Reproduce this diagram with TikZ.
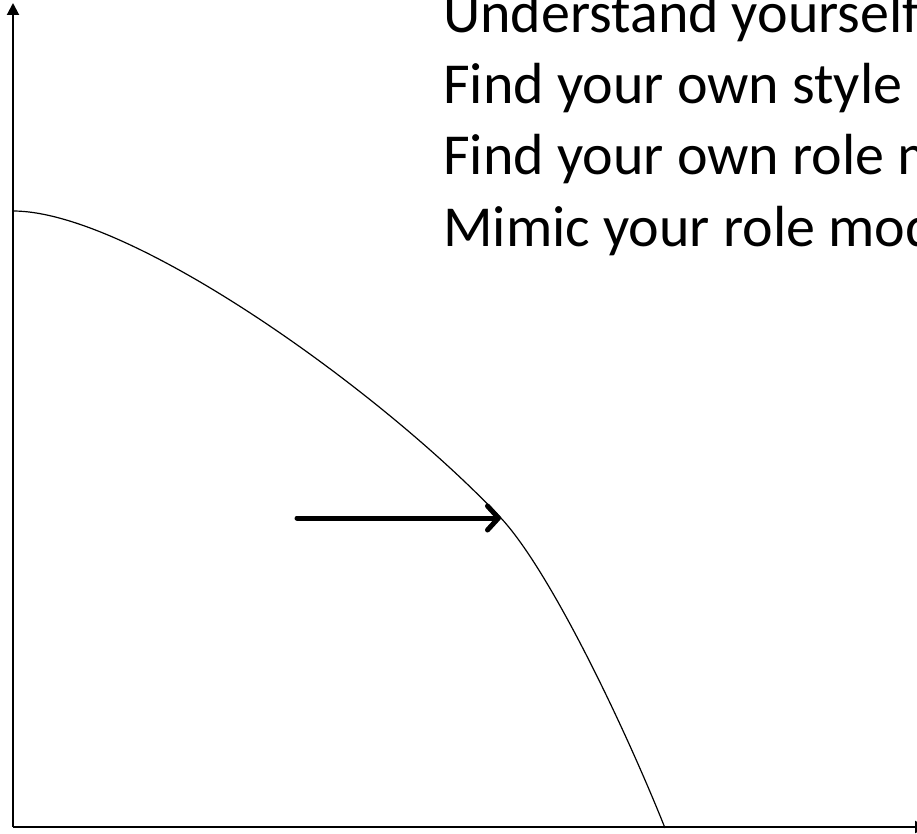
\documentclass[tikz,border=0pt]{standalone}
\usepackage{fontspec}
\setmainfont{Carlito}
\usetikzlibrary{arrows.meta}
\tikzset{
  axisline/.style={line width=2pt, -{Triangle[length=12pt,width=12pt]}},
  curveline/.style={line width=1.2pt},
  movearrow/.style={line width=5pt, line cap=round, -{Straight Barb[length=11pt,width=24pt,line cap=round,line join=round]}},
  txt/.style={anchor=base west, inner sep=0pt, font=\fontsize{58}{70}\selectfont}
}
\begin{document}
\begin{tikzpicture}[x=1pt,y=-1pt]
\useasboundingbox (0,0) rectangle (917,834);
\clip (0,0) rectangle (917,834);
\coordinate (O) at (13,827);
\coordinate (Ytop) at (13,3);
\coordinate (Xend) at (927,827);
\draw[axisline] (O) -- (Ytop);
\draw[axisline] (O) -- (Xend);
\coordinate (c0) at (13,211);
\coordinate (c1) at (500,517);
\coordinate (c2) at (665,828);
\draw[curveline] (c0) .. controls (130,211) and (380,390) .. (c1)
                      .. controls (550,570) and (625,728) .. (c2);
\coordinate (a1) at (297,518);
\coordinate (a2) at (501,518);
\draw[movearrow] (a1) -- (a2);
\node[txt] (t1) at (443,33) {Understand yourself};
\node[txt] (t2) at (443,104) {Find your own style};
\node[txt] (t3) at (443,175) {Find your own role model};
\node[txt] (t4) at (443,246) {Mimic your role model};
\end{tikzpicture}
\end{document}
